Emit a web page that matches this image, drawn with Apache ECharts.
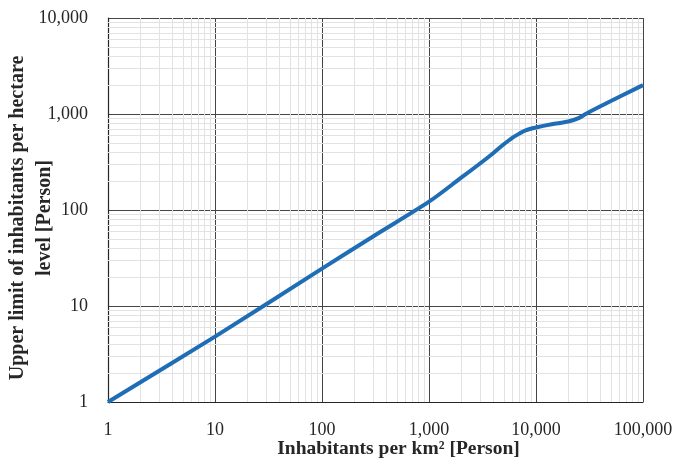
<!DOCTYPE html>
<html>
<head>
<meta charset="utf-8">
<script src="https://cdn.jsdelivr.net/npm/echarts@6/dist/echarts.min.js"></script>
<style>html,body{margin:0;padding:0;background:#fff}#c{width:676px;height:463px}</style>
</head>
<body>
<div id="c"></div>
<script>
// Data
var densityKm2 = [1, 10, 100, 300, 1000, 2000, 3000, 4000, 5000, 6000, 7000, 8000, 10000, 14000, 20000, 25000, 30000, 45000, 100000];
var upperLimitHa = [1, 4.8, 24.5, 53, 122, 217, 305, 393, 484, 565, 625, 676, 724, 782, 835, 905, 1020, 1285, 2000];
var xMinorTicks = [];
var yMinorTicks = [];
[1, 10, 100, 1000, 10000].forEach(function (d) {
  for (var k = 2; k <= 9; k++) xMinorTicks.push(k * d);
});
[1, 10, 100, 1000].forEach(function (d) {
  for (var k = 2; k <= 9; k++) yMinorTicks.push(k * d);
});

var fmt = function (v) { return Math.round(v).toLocaleString('en-US'); };
var font = '"Liberation Serif", "DejaVu Serif", serif';

var chart = echarts.init(document.getElementById('c'));
var minorLines = xMinorTicks.map(function (v) { return { xAxis: v }; })
  .concat(yMinorTicks.map(function (v) { return { yAxis: v }; }));

chart.setOption({
  animation: false,
  grid: { left: 108, right: 33, top: 18, bottom: 61, containLabel: false, outerBoundsMode: 'none' },
  xAxis: {
    type: 'log', logBase: 10, min: 1, max: 100000,
    name: 'Inhabitants per km² [Person]',
    nameLocation: 'middle', nameGap: 37, nameMoveOverlap: false,
    nameTextStyle: { fontFamily: font, fontWeight: 'bold', fontSize: 19.5, color: '#262626', padding: [0, 0, 0, 46] },
    axisLine: { show: true, lineStyle: { color: '#262626', width: 1.2 } },
    axisTick: { show: false },
    axisLabel: { fontFamily: font, fontSize: 18, color: '#262626', margin: 19, formatter: fmt },
    splitLine: { show: true, lineStyle: { color: '#454545', width: 1 } }
  },
  yAxis: {
    type: 'log', logBase: 10, min: 1, max: 10000,
    name: 'Upper limit of inhabitants per hectare\nlevel [Person]',
    nameLocation: 'middle', nameGap: 50, nameMoveOverlap: false,
    nameTextStyle: { fontFamily: font, fontWeight: 'bold', fontSize: 20, color: '#262626', lineHeight: 27, padding: [0, 16, 0, 0] },
    axisLine: { show: true, lineStyle: { color: '#262626', width: 1.2 } },
    axisTick: { show: false },
    axisLabel: { fontFamily: font, fontSize: 18, color: '#262626', margin: 20, formatter: fmt },
    splitLine: { show: true, lineStyle: { color: '#454545', width: 1 } }
  },
  series: [
    {
      type: 'line',
      data: [[1, 1]],
      showSymbol: false,
      symbol: 'none',
      lineStyle: { opacity: 0 },
      silent: true,
      z: 1,
      markLine: {
        silent: true,
        symbol: 'none',
        label: { show: false },
        lineStyle: { color: '#e2e2e2', width: 1, type: 'solid' },
        data: minorLines,
        animation: false
      }
    },
    {
      type: 'line',
      data: densityKm2.map(function (x, i) { return [x, upperLimitHa[i]]; }),
      smooth: 0.3,
      showSymbol: false,
      symbol: 'none',
      lineStyle: { color: '#1f6db5', width: 4 },
      z: 5
    }
  ]
});
</script>
</body>
</html>
